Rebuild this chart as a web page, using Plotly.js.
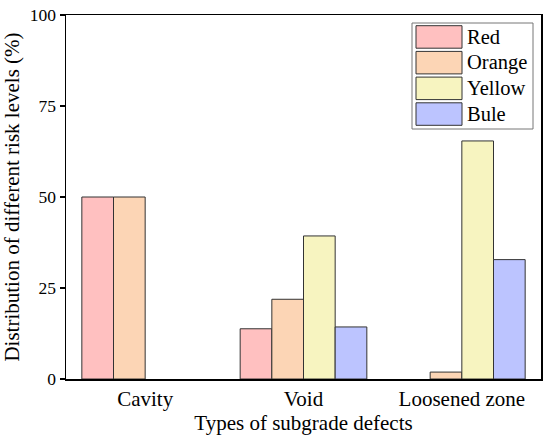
<!DOCTYPE html>
<html>
<head>
<meta charset="utf-8">
<script src="https://cdn.plot.ly/plotly-3.0.1.min.js"></script>
<style>html,body{margin:0;padding:0;background:#fff;}#chart{width:550px;height:442px;}</style>
</head>
<body>
<div id="chart"></div>
<script>
var categories = ["Cavity", "Void", "Loosened zone"];
var seriesNames = ["Red", "Orange", "Yellow", "Bule"];
var redValues = [50, 13.8, 0];
var orangeValues = [50, 21.9, 1.9];
var yellowValues = [0, 39.3, 65.4];
var blueValues = [0, 14.3, 32.8];
var yTickVals = [0, 25, 50, 75, 100];
var colors = ["#FFC0C0", "#FCD5B5", "#F7F4C0", "#BCC4FF"];

var allValues = [redValues, orangeValues, yellowValues, blueValues];
var font = "Times New Roman";
var fs = 21;

var traces = allValues.map(function (vals, i) {
  return {
    type: "bar",
    name: seriesNames[i],
    x: categories,
    y: vals,
    marker: {
      color: colors[i],
      line: { color: "#333333", width: vals.map(function (v) { return v > 0 ? 1 : 0; }) }
    },
    hoverinfo: "x+y+name"
  };
});

// Manual legend (large swatches like the reference)
var shapes = [{
  type: "rect", xref: "paper", yref: "paper",
  x0: (412 - 66) / 475, x1: (533 - 66) / 475,
  y0: (379 - 129) / 364, y1: (379 - 23) / 364,
  line: { color: "#777777", width: 1 }, fillcolor: "#ffffff", layer: "above"
}];
var annotations = [];
seriesNames.forEach(function (name, i) {
  var top = 25.7 + i * 25.7;
  var bot = top + 22.5;
  shapes.push({
    type: "rect", xref: "paper", yref: "paper",
    x0: (416 - 66) / 475, x1: (462 - 66) / 475,
    y0: (379 - bot) / 364, y1: (379 - top) / 364,
    line: { color: "#333333", width: 1 }, fillcolor: colors[i], layer: "above"
  });
  annotations.push({
    xref: "paper", yref: "paper",
    x: (465 - 66) / 475, y: (379 - (top + bot) / 2) / 364,
    xanchor: "left", yanchor: "middle", showarrow: false,
    text: name, font: { family: font, size: 20.5, color: "#000" }
  });
});

var layout = {
  width: 550, height: 442,
  margin: { l: 66, r: 9, t: 15, b: 63 },
  paper_bgcolor: "#ffffff", plot_bgcolor: "#ffffff",
  barmode: "group", bargap: 0.2, bargroupgap: 0,
  showlegend: false,
  font: { family: font, size: fs, color: "#000" },
  xaxis: {
    type: "category", range: [-0.5, 2.5], automargin: false,
    showline: true, linecolor: "#000", linewidth: 1.5, mirror: true,
    ticks: "", showgrid: false, zeroline: false,
    tickfont: { family: font, size: fs, color: "#000" },
    title: { text: "Types of subgrade defects", font: { family: font, size: fs, color: "#000" }, standoff: 4 }
  },
  yaxis: {
    range: [0, 100], tickvals: yTickVals, ticktext: yTickVals.map(String), automargin: false,
    showline: true, linecolor: "#000", linewidth: 1.5, mirror: true,
    ticks: "outside", ticklen: 5, tickwidth: 1.5, tickcolor: "#000",
    showgrid: false, zeroline: false,
    tickfont: { family: font, size: 17.5, color: "#000" },
    title: { text: "Distribution of different risk levels (%)", font: { family: font, size: fs, color: "#000" }, standoff: 4 }
  },
  shapes: shapes,
  annotations: annotations
};

Plotly.newPlot("chart", traces, layout, { displayModeBar: false, staticPlot: true });
</script>
</body>
</html>
